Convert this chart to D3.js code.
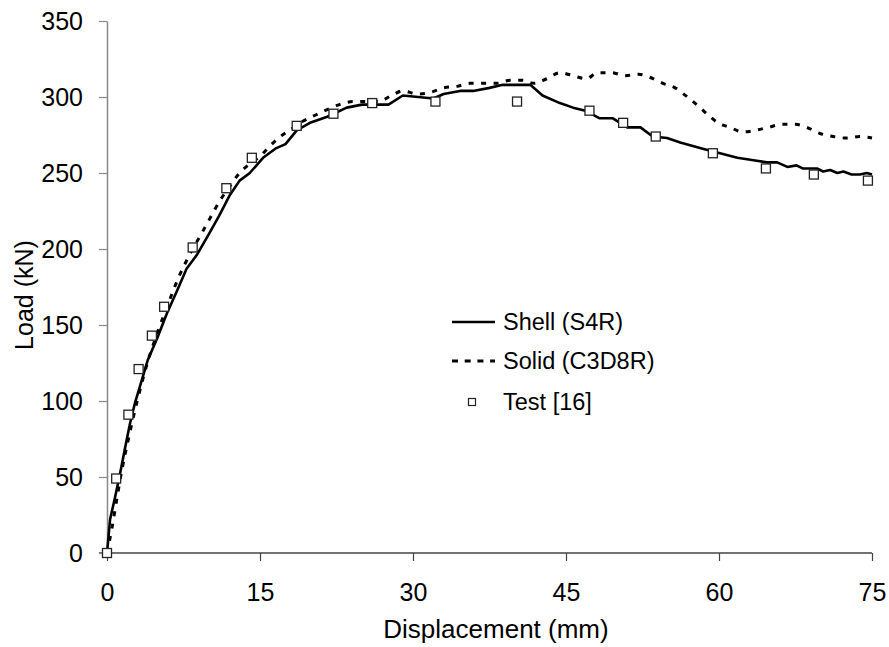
<!DOCTYPE html>
<html>
<head>
<meta charset="utf-8">
<script src="https://cdn.jsdelivr.net/npm/d3@7"></script>
<style>
  body { margin: 0; background: #fff; }
  svg { display: block; font-family: "Liberation Sans", Arial, sans-serif; }
</style>
</head>
<body>
<svg id="chart" width="889" height="647"></svg>
<script>
// Shell (S4R) model: [displacement mm, load kN]
const shellS4R = [
  [0, 0], [0.3, 22], [0.8, 37], [1.3, 53], [1.8, 70], [2.25, 85], [2.75, 99], [3.2, 109],
  [4.0, 127], [4.9, 141], [5.9, 158], [6.9, 173], [7.8, 187], [8.8, 196], [10, 210], [11, 222],
  [12, 235], [13, 245], [14, 250], [15.3, 260], [16.5, 266], [17.5, 269], [18.6, 278], [19.9, 283],
  [21.6, 287], [23.5, 293], [25, 295], [26.3, 295], [27.6, 295], [29, 301], [32, 299], [33, 302],
  [34.6, 304], [35.9, 304], [37.5, 306], [38.8, 308], [41.5, 308], [42.7, 301], [44.4, 296],
  [45.7, 293], [46.9, 291], [48.3, 286], [49.6, 286], [51, 280], [52.3, 280], [53.5, 274],
  [54.9, 273], [56.2, 270], [58.4, 266], [60.1, 263], [61.8, 260], [63.7, 258], [64.7, 257],
  [65.7, 257], [66.7, 254], [67.6, 255], [68.2, 253], [69.6, 253], [70.2, 251], [70.9, 252],
  [71.6, 250], [72.2, 251], [73, 249], [73.8, 249], [74.5, 250], [75, 249]
];

// Solid (C3D8R) model
const solidC3D8R = [
  [0, 0], [0.5, 17], [1, 37], [1.5, 56], [2, 72], [2.5, 87], [3, 101], [4, 126], [5, 146],
  [6, 164], [7, 181], [8, 195], [9, 207], [10, 219], [11, 231], [12, 241], [13, 250], [14, 256],
  [15, 261], [16, 268], [17, 274], [18.1, 279], [19.2, 284], [20.4, 288], [21.7, 292], [22.8, 295],
  [24.1, 297], [25.5, 297], [26.6, 297], [27.9, 301], [29, 304], [30.4, 302], [31.7, 303], [33, 306],
  [34.3, 307], [35.6, 309], [36.9, 309], [38.2, 309], [39.5, 311], [40.7, 311], [41.9, 309],
  [43.1, 312], [44.4, 316], [45.7, 314], [47, 312], [48.1, 316], [49.5, 316], [50.8, 314],
  [52.1, 315], [53.2, 313], [54.5, 309], [55.7, 306], [56.9, 300], [57.8, 295], [58.8, 289],
  [59.9, 283], [61.1, 280], [62.3, 277], [63.5, 278], [64.8, 280], [66.2, 282], [67.5, 282],
  [68.6, 280], [69.9, 276], [71.2, 274], [72.5, 273], [73.8, 274], [75, 273]
];

// Test [16]
const testData = [
  [0, 0], [0.9, 49], [2.1, 91], [3.1, 121], [4.4, 143], [5.6, 162], [8.4, 201], [11.7, 240],
  [14.2, 260], [18.6, 281], [22.2, 289], [26, 296], [32.2, 297], [40.2, 297], [47.3, 291],
  [50.6, 283], [53.8, 274], [59.4, 263], [64.6, 253], [69.3, 249], [74.6, 245]
];

const xTicks = [0, 15, 30, 45, 60, 75];
const yTicks = [0, 50, 100, 150, 200, 250, 300, 350];
const legendLabels = ["Shell (S4R)", "Solid (C3D8R)", "Test [16]"];

const svg = d3.select("#chart");
const x = d3.scaleLinear().domain([0, 75]).range([107, 872]);
const y = d3.scaleLinear().domain([0, 350]).range([553, 21]);

// axes
const xAxis = svg.append("g")
  .attr("transform", `translate(0,${y(0)})`)
  .call(d3.axisBottom(x).tickValues(xTicks).tickSize(8).tickSizeOuter(0).tickPadding(22));
xAxis.select(".domain").attr("stroke", "#444").attr("stroke-width", 1.5)
  .attr("d", `M${x(0) - 8},0H${x(75)}`);
xAxis.selectAll(".tick line").attr("stroke", "#444").attr("stroke-width", 1.2);

const yAxis = svg.append("g")
  .attr("transform", `translate(${x(0)},0)`)
  .call(d3.axisLeft(y).tickValues(yTicks).tickSize(8).tickSizeOuter(0).tickPadding(16));
yAxis.select(".domain").attr("stroke", "#888").attr("stroke-width", 1.5);
yAxis.selectAll(".tick line").attr("stroke", "#888").attr("stroke-width", 1.2);

svg.selectAll(".tick text")
  .attr("font-family", "Liberation Sans, Arial, sans-serif")
  .attr("font-size", 25)
  .attr("fill", "#000");

// axis titles
svg.append("text")
  .attr("x", 496).attr("y", 638)
  .attr("text-anchor", "middle")
  .attr("font-size", 26)
  .text("Displacement (mm)");

svg.append("text")
  .attr("transform", `translate(33,${(y(0) + y(350)) / 2 + 8}) rotate(-90)`)
  .attr("text-anchor", "middle")
  .attr("font-size", 25)
  .text("Load (kN)");

// curves
const line = d3.line().x(d => x(d[0])).y(d => y(d[1]));

svg.append("path")
  .datum(solidC3D8R)
  .attr("fill", "none")
  .attr("stroke", "#000")
  .attr("stroke-width", 3)
  .attr("stroke-dasharray", "5,7.5")
  .attr("d", line.curve(d3.curveMonotoneX));

svg.append("path")
  .datum(shellS4R)
  .attr("fill", "none")
  .attr("stroke", "#000")
  .attr("stroke-width", 2.6)
  .attr("stroke-linejoin", "round")
  .attr("d", line.curve(d3.curveLinear));

const sq = 9;
svg.append("g").selectAll("rect")
  .data(testData)
  .join("rect")
  .attr("x", d => x(d[0]) - sq / 2)
  .attr("y", d => y(d[1]) - sq / 2)
  .attr("width", sq).attr("height", sq)
  .attr("fill", "#fff")
  .attr("stroke", "#222")
  .attr("stroke-width", 1.3);

// legend
const legend = svg.append("g");
const legRows = [322, 361, 402];
legend.append("line")
  .attr("x1", 452).attr("x2", 495).attr("y1", legRows[0]).attr("y2", legRows[0])
  .attr("stroke", "#000").attr("stroke-width", 2.6);
legend.append("line")
  .attr("x1", 452).attr("x2", 495).attr("y1", legRows[1]).attr("y2", legRows[1])
  .attr("stroke", "#000").attr("stroke-width", 3).attr("stroke-dasharray", "6,6.7");
legend.append("rect")
  .attr("x", 472 - 3.5).attr("y", legRows[2] - 3.5).attr("width", 7).attr("height", 7)
  .attr("fill", "#fff").attr("stroke", "#222").attr("stroke-width", 1.2);
legend.selectAll("text")
  .data(legendLabels)
  .join("text")
  .attr("x", 503)
  .attr("y", (d, i) => legRows[i])
  .attr("dy", "0.36em")
  .attr("font-size", 23.5)
  .text(d => d);
</script>
</body>
</html>
